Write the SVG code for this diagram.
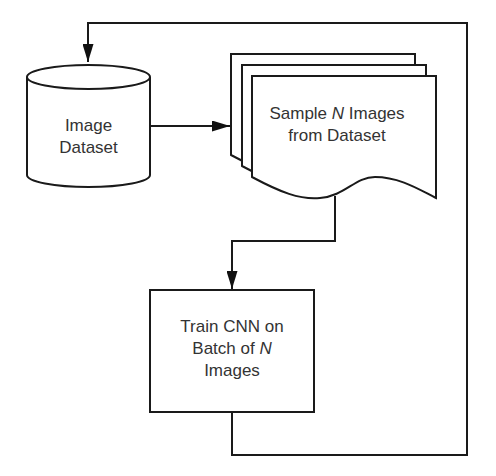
<svg xmlns="http://www.w3.org/2000/svg" width="496" height="476" viewBox="0 0 496 476">
<style>
.s{fill:#fff;stroke:#1a1a1a;stroke-width:2;stroke-linejoin:miter}
.c{fill:none;stroke:#1a1a1a;stroke-width:2}
.t{font-family:"Liberation Sans",Arial,sans-serif;font-size:17px;fill:#333;text-anchor:middle}
</style>
<defs>
<marker id="ah" markerUnits="userSpaceOnUse" markerWidth="18" markerHeight="11" refX="18" refY="5.5" orient="auto">
<path d="M0,0 L18,5.5 L0,11 z" fill="#111"/>
</marker>
<path id="doc" d="M0,0 H184 V122 C168,114 148,101 123,101 C103,101 93,120 68,122 C48,124 28,116 0,101 Z"/>
</defs>
<g id="connectors">
<path class="c" d="M232,412 V455 H467 V23 H88 V62" marker-end="url(#ah)"/>
<path class="c" d="M150,126 H230" marker-end="url(#ah)"/>
<path class="c" d="M335,196 V241 H232 V289" marker-end="url(#ah)"/>
</g>
<g id="dataset">
<path class="s" d="M27,77 V175 A61.5,12 0 0 0 150,175 V77 A61.5,12 0 0 0 27,77 Z"/>
<path class="c" d="M27,77 A61.5,12 0 0 0 150,77"/>
<text class="t" x="88.5" y="131">Image</text>
<text class="t" x="88.5" y="153">Dataset</text>
</g>
<g id="sample">
<use href="#doc" class="s" x="231" y="54"/>
<use href="#doc" class="s" x="242" y="65"/>
<use href="#doc" class="s" x="252" y="76"/>
<text class="t" x="337" y="119">Sample <tspan font-style="italic">N</tspan> Images</text>
<text class="t" x="337" y="141">from Dataset</text>
</g>
<g id="train">
<rect class="s" x="150" y="290" width="164" height="122"/>
<text class="t" x="232" y="332">Train CNN on</text>
<text class="t" x="232" y="354">Batch of <tspan font-style="italic">N</tspan></text>
<text class="t" x="232" y="376">Images</text>
</g>
</svg>
